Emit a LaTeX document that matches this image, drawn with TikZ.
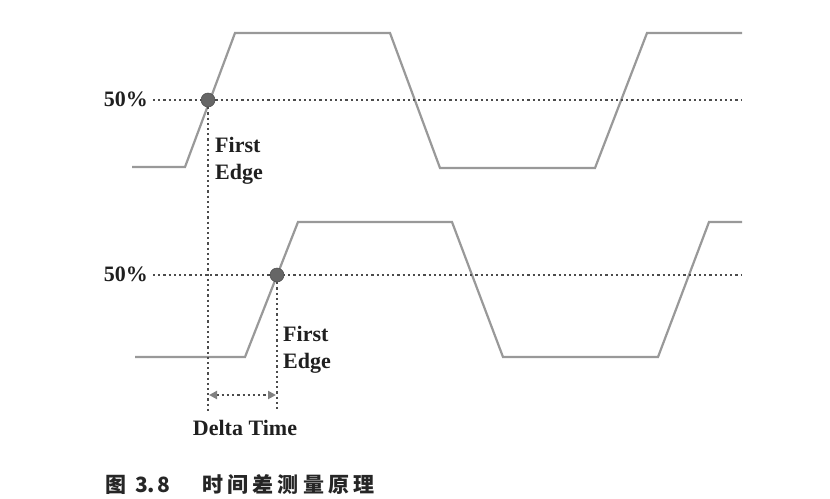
\documentclass[tikz,border=0pt]{standalone}
\usepackage{fontspec}
\setmainfont{Liberation Serif}
\newfontfamily\cjk[LetterSpace=20]{Noto Sans CJK SC}
\newfontfamily\cjknum{Noto Sans CJK SC}
\usetikzlibrary{arrows.meta}
\begin{document}
\begin{tikzpicture}[x=1pt,y=-1pt,
  wave/.style={draw=black!40,line width=2.2pt,line join=miter},
  dotline/.style={draw=black!70,line width=2.2pt,dash pattern=on 2.2pt off 3pt},
  marker/.style={circle,fill=black!60,draw=black!70,line width=0.5pt,minimum size=14pt,inner sep=0pt},
  lbl/.style={font=\fontsize{22}{24}\selectfont\bfseries,text=black!88,inner sep=0pt},
  edgelbl/.style={font=\fontsize{22}{27}\selectfont\bfseries,text=black!88,inner sep=0pt,align=left,anchor=north west},
  captext/.style={font=\cjk\fontsize{21}{23}\selectfont\bfseries,text=black!85,inner sep=0pt,anchor=west},
  capnum/.style={font=\cjknum\fontsize{21}{23}\selectfont\bfseries,text=black!85,inner sep=0pt,anchor=west}]
\fill[white] (0,0) rectangle (830,498);
\useasboundingbox (0,0) rectangle (830,498);
% waveforms
\draw[wave] (132,167) -- (185,167) -- (235,33) -- (390,33) -- (440,168) -- (595,168) -- (647,33) -- (742,33);
\draw[wave] (135,357) -- (245,357) -- (298,222) -- (452,222) -- (503,357) -- (658,357) -- (709,222) -- (742,222);
% labels 50%
\node[lbl,anchor=east] (p1) at (148,99) {50\%};
\node[lbl,anchor=east] (p2) at (148,274) {50\%};
% 50% lines
\coordinate (l1e) at (742,100);
\coordinate (l2e) at (742,275);
\draw[dotline] (p1.east |- l1e) ++(5,0) coordinate (l1s) -- (l1e);
\draw[dotline] (p2.east |- l2e) ++(5,0) coordinate (l2s) -- (l2e);
% markers
\node[marker] (m1) at (208,100) {};
\node[marker] (m2) at (277,275) {};
\coordinate (v1e) at (208,414);
\coordinate (v2e) at (277,409);
\draw[dotline] (m1.south) -- (v1e);
\draw[dotline] (m2.south) -- (v2e);
% delta arrow
\coordinate (a1) at (209,395);
\coordinate (a2) at (276,395);
\draw[dotline,>={Triangle[length=8pt,width=8pt,color=black!50]},<->] (a1) -- (a2);
% First Edge
\node[edgelbl] (fe1) at (215,137) {First\\Edge};
\node[edgelbl] (fe2) at (283,326) {First\\Edge};
\node[lbl] (dt) at (245,428) {Delta Time};
% caption
\node[captext] (c1) at (105,485) {图};
\node[capnum] (c2) at (135,485) {3.\hspace{2pt}8};
\node[captext] (c3) at (202,485) {时间差测量原理};
\end{tikzpicture}
\end{document}
